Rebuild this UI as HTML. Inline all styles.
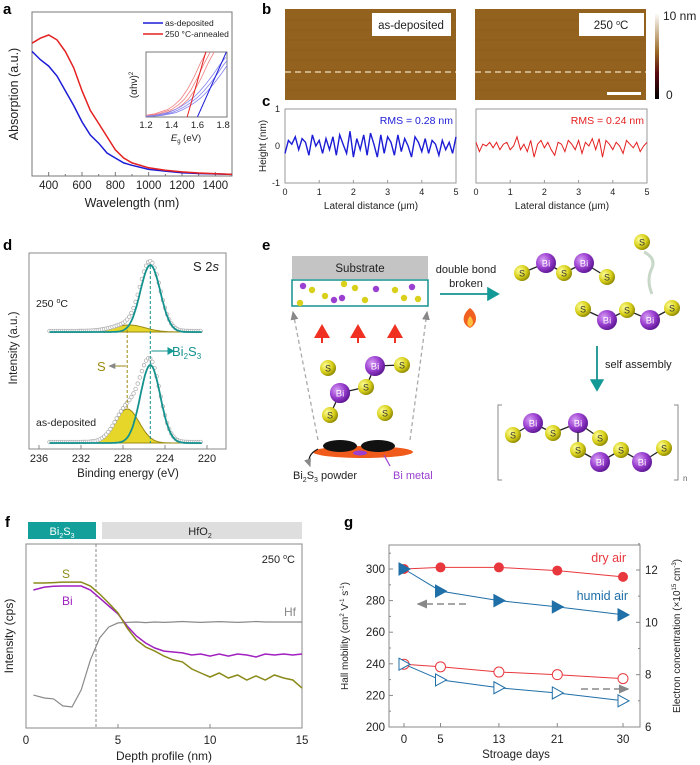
<!DOCTYPE html>
<html><head><meta charset="utf-8"><style>
html,body{margin:0;padding:0;background:#fff;}
svg{display:block;font-family:"Liberation Sans",Arial,sans-serif;}
</style></head><body>
<svg id="fig" width="700" height="765" viewBox="0 0 700 765">
<defs>
<clipPath id="insetClip"><rect x="146" y="52" width="81" height="65"/></clipPath>
<radialGradient id="gS" cx="0.35" cy="0.35" r="0.7"><stop offset="0" stop-color="#ffff9a"/><stop offset="0.6" stop-color="#d8d01a"/><stop offset="1" stop-color="#8a8400"/></radialGradient>
<radialGradient id="gBi" cx="0.35" cy="0.35" r="0.7"><stop offset="0" stop-color="#d9a0f5"/><stop offset="0.55" stop-color="#9a3fd0"/><stop offset="1" stop-color="#5a1590"/></radialGradient>
<linearGradient id="gCbar" x1="0" y1="1" x2="0" y2="0"><stop offset="0" stop-color="#000"/><stop offset="0.3" stop-color="#5a0a10"/><stop offset="0.55" stop-color="#9a6a25"/><stop offset="1" stop-color="#fff"/></linearGradient>
<marker id="arT" markerWidth="8" markerHeight="8" refX="6" refY="4" orient="auto"><path d="M0,0 L7,4 L0,8 Z" fill="#149a96"/></marker>
<marker id="arG" markerWidth="8" markerHeight="8" refX="6" refY="4" orient="auto"><path d="M0,1 L7,4 L0,7 Z" fill="#888"/></marker>
<marker id="arR" markerWidth="8" markerHeight="8" refX="5" refY="4" orient="auto"><path d="M0,0 L7,4 L0,8 Z" fill="#f03020"/></marker>
</defs>
<g font-weight="bold" font-size="15" fill="#000">
<text x="3" y="14">a</text>
<text x="262" y="14">b</text>
<text x="262" y="106">c</text>
<text x="3" y="250">d</text>
<text x="262" y="250">e</text>
<text x="5" y="527">f</text>
<text x="344" y="527">g</text>
</g>
<g id="pa"></g><g id="pb"></g><g id="pc"></g><g id="pd"></g><g id="pe"></g><g id="pf"></g><g id="pg"></g>
</svg>
<script>
// ---------- DATA ----------
const aWl = [300,350,400,450,500,550,600,650,700,750,800,850,900,1000,1100,1200,1300,1500];
const aBlue = [0.76,0.71,0.67,0.61,0.52,0.43,0.33,0.25,0.2,0.14,0.11,0.08,0.065,0.04,0.03,0.02,0.015,0.01];
const aRed = [0.81,0.84,0.86,0.83,0.76,0.66,0.52,0.4,0.32,0.24,0.16,0.11,0.08,0.05,0.035,0.025,0.018,0.01];
const aTicks = [400,600,800,1000,1200,1400];
const inE = [1.2,1.3,1.4,1.45,1.5,1.55,1.6,1.65,1.7,1.75,1.8,1.85];
const inRed = [0.02,0.06,0.14,0.22,0.33,0.5,0.72,0.98,1.2,1.4,1.6,1.8];
const inBlue = [0.01,0.03,0.08,0.13,0.19,0.27,0.36,0.48,0.62,0.78,0.95,1.1];
const inTicks = [1.2,1.4,1.6,1.8];
const cX = [0,0.1,0.2,0.3,0.4,0.5,0.6,0.7,0.8,0.9,1,1.1,1.2,1.3,1.4,1.5,1.6,1.7,1.8,1.9,2,2.1,2.2,2.3,2.4,2.5,2.6,2.7,2.8,2.9,3,3.1,3.2,3.3,3.4,3.5,3.6,3.7,3.8,3.9,4,4.1,4.2,4.3,4.4,4.5,4.6,4.7,4.8,4.9,5];
const cLeft = [-0.2,0.15,0.05,0.25,-0.1,0.2,0.1,-0.25,0.3,0,0.15,-0.2,0.2,-0.1,0.25,-0.25,0.3,0.05,-0.2,0.4,-0.3,0.2,-0.1,0.3,-0.25,0.35,0.05,-0.3,0.3,-0.2,0.25,0.1,-0.25,0.3,-0.15,0.2,0,-0.3,0.25,0.1,-0.15,0.2,-0.2,0.15,0.05,-0.25,0.15,-0.1,0.1,-0.2,0.25];
const cRight = [0.1,-0.15,0.05,0,0.1,-0.05,0.1,-0.1,0.05,0.1,-0.1,0.0,0.25,-0.1,0.05,-0.15,0.15,-0.3,0.05,0.15,-0.05,0.1,-0.1,-0.25,0.1,0.05,-0.15,0.15,0.05,-0.1,0.15,-0.2,0.1,0,0.2,-0.1,0.2,-0.3,0.15,0.05,-0.1,0.1,0,-0.2,0.15,0.05,-0.05,0.1,-0.15,0.0,0.1];
const cTicks = [0,1,2,3,4,5];
const dTicks = [236,232,228,224,220];
const dOffsets = [117,6];
const dBiCenter = [225.4,225.4];
const dBiAmp = [67,78];
const dBiSigma = [0.95,0.95];
const dSCenter = [227.4,227.6];
const dSAmp = [7,34];
const dSSigma = [1.5,1.15];
const fDepth = [0.4,1,1.5,2,2.5,3,3.5,4,4.5,5,5.5,6,6.5,7,7.5,8,8.5,9,9.5,10,10.5,11,11.5,12,12.5,13,13.5,14,14.5,15];
const fS = [78.8,78.8,79,79.3,79.3,79.3,77.2,72.8,67.9,62.5,54.3,47.8,44,41.8,39.1,37,35.9,32.1,29.9,27.7,29.9,27.2,28.8,26.1,28.3,26.1,28.8,27.2,26.1,21.7];
const fBi = [75,76.6,77,77.2,77.2,77.2,75,70.7,66.3,62,55.4,50,46.2,43.5,41.8,41.3,40.8,39.7,40.2,39.1,40.2,39.1,40.2,39.7,38.6,40.2,39.7,40.2,39.7,40.2];
const fHf = [17.9,16.3,15.8,12,11.4,20.7,37,48.9,54.9,57.1,57.4,57.6,57.3,57.6,57.4,57.6,57.9,57.6,57.4,57.6,57.8,57.6,57.4,57.6,57.9,57.6,57.6,57.6,57.6,57.6];
const fTicks = [0,5,10,15];
const gDays = [0,5,13,21,30];
const gMobDry = [300,301,301,299,295];
const gMobHumid = [300,286,280,276,271];
const gConcDry = [8.4,8.3,8.1,8.0,7.85];
const gConcHumid = [8.4,7.8,7.5,7.3,7.0];
const gLeftTicks = [200,220,240,260,280,300];
const gRightTicks = [6,8,10,12];

const NS='http://www.w3.org/2000/svg';
function mk(parent,tag,attrs,name){
  const el=document.createElementNS(NS,tag);
  for(const k in attrs) el.setAttribute(k,attrs[k]);
  
  
  parent.appendChild(el);return el;
}
function txt(parent,x,y,s,name,extra){
  const a=Object.assign({x:x,y:y,'font-size':11,fill:'#222'},extra||{});
  const t=mk(parent,'text',a,name);t.textContent=s;return t;
}
function lin(d0,d1,r0,r1){return v=>r0+(v-d0)*(r1-r0)/(d1-d0);}
function pathOf(xs,ys,sx,sy){return xs.map((x,i)=>(i?'L':'M')+sx(x).toFixed(1)+','+sy(ys[i]).toFixed(1)).join('');}

// ---------- PANEL A ----------
(function(){
const g=document.getElementById('pa');
const sx=lin(300,1500,32,232), sy=lin(0,1,176,12);
mk(g,'rect',{x:32,y:12,width:200,height:164,fill:'none',stroke:'#777','stroke-width':1},'plot-frame-a');
for(let v=300;v<=1500;v+=100){mk(g,'line',{x1:sx(v),x2:sx(v),y1:176,y2:v%200==0?172:174,stroke:'#777'},'x-tick-a');}
aTicks.forEach(v=>{txt(g,sx(v),189,String(v),'x-tick-label-a',{'text-anchor':'middle','font-size':11.5});});
txt(g,132,207,'Wavelength (nm)','x-axis-title-a',{'text-anchor':'middle','font-size':12.5});
txt(g,0,0,'Absorption (a.u.)','y-axis-title-a',{'text-anchor':'middle','font-size':12.5,transform:'translate(18,94) rotate(-90)'});
mk(g,'path',{d:pathOf(aWl,aBlue,sx,sy),fill:'none',stroke:'#1c1cd6','stroke-width':1.5},'as-deposited-line');
mk(g,'path',{d:pathOf(aWl,aRed,sx,sy),fill:'none',stroke:'#e42020','stroke-width':1.5},'annealed-line');
mk(g,'line',{x1:143,x2:163,y1:23,y2:23,stroke:'#1c1cd6','stroke-width':1.5},'legend-swatch-as-deposited');
txt(g,165,26,'as-deposited','legend-entry-as-deposited',{'font-size':8.5});
mk(g,'line',{x1:143,x2:163,y1:34,y2:34,stroke:'#e42020','stroke-width':1.5},'legend-swatch-annealed');
txt(g,165,37,'250 °C-annealed','legend-entry-annealed',{'font-size':8.5});
const ix=lin(1.2,1.83,146,227), iy=lin(0,1.2,117,52);
mk(g,'rect',{x:146,y:52,width:81,height:65,fill:'#fff',stroke:'#777'},'inset-frame');
const cl=mk(g,'g',{'clip-path':'url(#insetClip)'},'inset-curves');
[0,0.03,-0.03].forEach(o=>{
  mk(cl,'path',{d:pathOf(inE.map(e=>e+o),inRed,ix,iy),fill:'none',stroke:'#f08080','stroke-width':0.8},'inset-red-curve');
  mk(cl,'path',{d:pathOf(inE.map(e=>e+o),inBlue,ix,iy),fill:'none',stroke:'#8080f0','stroke-width':0.8},'inset-blue-curve');
});
mk(cl,'line',{x1:ix(1.52),y1:117,x2:ix(1.665),y2:52,stroke:'#e42020','stroke-width':1},'inset-red-fit');
mk(cl,'line',{x1:ix(1.6),y1:117,x2:ix(1.825),y2:52,stroke:'#1c1cd6','stroke-width':1},'inset-blue-fit');
inTicks.forEach(v=>{txt(g,ix(v),128,v.toFixed(1),'inset-tick-label',{'text-anchor':'middle','font-size':9.5});});
const et=txt(g,186,141,'','inset-x-title',{'text-anchor':'middle','font-size':9.5});
et.innerHTML='<tspan font-style="italic">E</tspan><tspan font-size="6" dy="2">g</tspan><tspan dy="-2"> (eV)</tspan>';
const yt=txt(g,0,0,'','inset-y-title',{'text-anchor':'middle','font-size':10,transform:'translate(137,85) rotate(-90)'});
yt.innerHTML='(αhν)<tspan font-size="6" dy="-4">2</tspan>';
})();

// ---------- PANEL B ----------
(function(){
const g=document.getElementById('pb');
[[285,'as-deposited'],[475,'250 °C']].forEach((p,i)=>{
  mk(g,'rect',{x:p[0],y:9,width:171,height:91,fill:'#93621f'},'afm-image-'+i);
  for(let k=0;k<8;k++) mk(g,'line',{x1:p[0],x2:p[0]+171,y1:20+k*10,y2:20+k*10,stroke:'#875818','stroke-width':1,opacity:0.5},'afm-texture');
  mk(g,'line',{x1:p[0],x2:p[0]+171,y1:72,y2:72,stroke:'#f0e0c0','stroke-width':1.2,'stroke-dasharray':'6,4'},'afm-line-cut');
});
mk(g,'rect',{x:372,y:13,width:79,height:23,fill:'#fff'},'label-box-as-deposited');
txt(g,411,29,'as-deposited','afm-label-as-deposited',{'text-anchor':'middle','font-size':11.5});
mk(g,'rect',{x:579,y:13,width:65,height:23,fill:'#fff'},'label-box-250');
const t=txt(g,611,29,'','afm-label-250',{'text-anchor':'middle','font-size':11.5});
t.innerHTML='250 <tspan font-size="7" dy="-4">o</tspan><tspan dy="4">C</tspan>';
mk(g,'rect',{x:607,y:92,width:34,height:3,fill:'#fff'},'scale-bar');
mk(g,'rect',{x:655,y:13,width:4,height:86,fill:'url(#gCbar)'},'color-bar');
txt(g,663,20,'10 nm','colorbar-max-label',{'font-size':12});
txt(g,666,99,'0','colorbar-min-label',{'font-size':12});
})();

// ---------- PANEL C ----------
(function(){
const g=document.getElementById('pc');
const sy=lin(-1,1,183,109);
[[285,cLeft,'#1c1cd6','RMS = 0.28 nm','left'],[476,cRight,'#e42020','RMS = 0.24 nm','right']].forEach(p=>{
  const sx=lin(0,5,p[0],p[0]+171);
  mk(g,'rect',{x:p[0],y:109,width:171,height:74,fill:'none',stroke:'#999'},'height-plot-frame-'+p[4]);
  cTicks.forEach(v=>{mk(g,'line',{x1:sx(v),x2:sx(v),y1:183,y2:180,stroke:'#999'},'x-tick-c');txt(g,sx(v),195,String(v),'x-tick-label-c',{'text-anchor':'middle','font-size':9});});
  txt(g,p[0]+86,209,'Lateral distance (μm)','x-axis-title-c',{'text-anchor':'middle','font-size':10});
  mk(g,'path',{d:pathOf(cX,p[1],sx,sy),fill:'none',stroke:p[2],'stroke-width':p[4]=='left'?1.4:1},'height-profile-'+p[4]);
  txt(g,p[0]+168,124,p[3],'rms-label-'+p[4],{'text-anchor':'end','font-size':10.5,fill:p[2]});
});
[1,0,-1].forEach(v=>{txt(g,280,sy(v)+3,String(v),'y-tick-label-c',{'text-anchor':'end','font-size':9});});
txt(g,0,0,'Height (nm)','y-axis-title-c',{'text-anchor':'middle','font-size':10,transform:'translate(266,146) rotate(-90)'});
})();

// ---------- PANEL D ----------
(function(){
const g=document.getElementById('pd');
const sx=lin(236,220,39,207), sy=v=>449-v;
mk(g,'rect',{x:29,y:253,width:197,height:196,fill:'none',stroke:'#888'},'plot-frame-d');
dTicks.forEach(v=>{mk(g,'line',{x1:sx(v),x2:sx(v),y1:449,y2:445,stroke:'#888'},'x-tick-d');txt(g,sx(v),462,String(v),'x-tick-label-d',{'text-anchor':'middle','font-size':11});});
txt(g,128,477,'Binding energy (eV)','x-axis-title-d',{'text-anchor':'middle','font-size':11.5});
txt(g,0,0,'Intensity (a.u.)','y-axis-title-d',{'text-anchor':'middle','font-size':11.5,transform:'translate(17,348) rotate(-90)'});
const gs=(e,c,a,s)=>a*Math.exp(-0.5*((e-c)/s)**2);
const E=[];for(let e=235;e>=220.5;e-=0.1)E.push(+e.toFixed(2));
[0,1].forEach(i=>{
  const off=dOffsets[i];
  const bi=E.map(e=>off+gs(e,dBiCenter[i],dBiAmp[i],dBiSigma[i]));
  const s=E.map(e=>off+gs(e,dSCenter[i],dSAmp[i],dSSigma[i]));
  const sum=E.map((e,k)=>bi[k]+s[k]-off);
  mk(g,'path',{d:pathOf(E,s,sx,sy)+'L'+sx(220.5)+','+sy(off)+'L'+sx(235)+','+sy(off)+'Z',fill:'#e6d62a',stroke:'#9a8a10','stroke-width':1},'s-component-'+i);
  const pts=mk(g,'g',{},'data-points-'+i);
  E.forEach((e,k)=>{if(k%2==0)mk(pts,'circle',{cx:sx(e),cy:sy(sum[k])-1,r:1.8,fill:'#fff',stroke:'#aaa','stroke-width':0.7},'data-point');});
  mk(g,'path',{d:pathOf(E,bi,sx,sy),fill:'none',stroke:'#14928e','stroke-width':1.8},'bi2s3-component-'+i);
});
mk(g,'line',{x1:sx(225.4),x2:sx(225.4),y1:266,y2:443,stroke:'#14928e','stroke-dasharray':'3,2'},'bi2s3-guide');
mk(g,'line',{x1:sx(227.6),x2:sx(227.6),y1:330,y2:410,stroke:'#9a8a10','stroke-dasharray':'3,2'},'s-guide');
mk(g,'line',{x1:sx(225.3),x2:sx(223.2),y1:351,y2:351,stroke:'#14928e','marker-end':'url(#arT)'},'bi2s3-arrow');
const bt=txt(g,172,356,'','bi2s3-label',{'font-size':13,fill:'#14928e'});
bt.innerHTML='Bi<tspan font-size="8" dy="3">2</tspan><tspan dy="-3">S</tspan><tspan font-size="8" dy="3">3</tspan>';
mk(g,'line',{x1:sx(227.7),x2:sx(229.3),y1:366,y2:366,stroke:'#9a8a10','marker-end':'url(#arG)'},'s-arrow');
txt(g,97,371,'S','s-label',{'font-size':13,fill:'#9a8a10'});
txt(g,219,271,'','s2s-title',{'text-anchor':'end','font-size':13}).innerHTML='S 2<tspan font-style="italic">s</tspan>';
txt(g,36,307,'','label-250',{'font-size':10.5}).innerHTML='250 <tspan font-size="7" dy="-4">o</tspan><tspan dy="4">C</tspan>';
txt(g,36,426,'as-deposited','label-as-deposited',{'font-size':10.5});
})();

// ---------- PANEL E ----------
(function(){
const g=document.getElementById('pe');
function atom(x,y,t){
  const r=t=='S'?8:10;
  mk(g,'circle',{cx:x,cy:y,r:r,fill:t=='S'?'url(#gS)':'url(#gBi)'},'atom-'+t);
  txt(g,x,y+3.5,t,'atom-label-'+t,{'text-anchor':'middle','font-size':t=='S'?9:9.5,fill:t=='S'?'#333':'#fff'});
}
function chain(list){
  for(let i=1;i<list.length;i++)mk(g,'line',{x1:list[i-1][0],y1:list[i-1][1],x2:list[i][0],y2:list[i][1],stroke:'#222','stroke-width':1.3},'bond');
  list.forEach(a=>atom(a[0],a[1],a[2]));
}
mk(g,'rect',{x:292,y:256,width:136,height:23,fill:'#c4c4c4'},'substrate');
txt(g,360,272,'Substrate','substrate-label',{'text-anchor':'middle','font-size':11.5});
mk(g,'rect',{x:292,y:280,width:136,height:26,fill:'#fff',stroke:'#14928e','stroke-width':1.5},'film-layer');
[[300,303],[303,286],[325,296],[344,284],[342,298],[355,288],[365,300],[376,289],[395,290],[404,298],[412,287],[418,299],[312,290],[334,300]].forEach((p,i)=>mk(g,'circle',{cx:p[0],cy:p[1],r:3.2,fill:i%3==1?'#9a3fd0':'#d8d01a'},'film-atom'));
mk(g,'line',{x1:318,y1:440,x2:293,y2:312,stroke:'#aaa','stroke-dasharray':'4,3','stroke-width':1.3,'marker-end':'url(#arG)'},'vapor-cone-left');
mk(g,'line',{x1:410,y1:440,x2:427,y2:312,stroke:'#aaa','stroke-dasharray':'4,3','stroke-width':1.3,'marker-end':'url(#arG)'},'vapor-cone-right');
[322,358,395].forEach(x=>mk(g,'line',{x1:x,y1:343,x2:x,y2:328,stroke:'#f03020','stroke-width':2,'marker-end':'url(#arR)'},'vapor-arrow'));
chain([[340,393,'Bi'],[366,387,'S'],[375,366,'Bi'],[402,365,'S']]);
chain([[340,393,'Bi'],[330,415,'S']]);
atom(328,368,'S');atom(385,413,'S');
mk(g,'ellipse',{cx:363,cy:452,rx:50,ry:6,fill:'#f05a1a'},'crucible');
mk(g,'ellipse',{cx:340,cy:446,rx:17,ry:6,fill:'#111'},'powder-pile-1');
mk(g,'ellipse',{cx:378,cy:446,rx:17,ry:6,fill:'#111'},'powder-pile-2');
mk(g,'ellipse',{cx:360,cy:453,rx:7,ry:2.5,fill:'#9a3fd0'},'bi-metal-drop');
mk(g,'path',{d:'M318,449 Q306,455 310,466',fill:'none',stroke:'#111','stroke-width':1.2,'marker-end':'url(#arG)'},'powder-pointer');
mk(g,'path',{d:'M384,455 L390,466',fill:'none',stroke:'#9a3fd0','stroke-width':1.2},'bi-pointer');
txt(g,293,479,'','powder-label',{'font-size':11}).innerHTML='Bi<tspan font-size="7" dy="3">2</tspan><tspan dy="-3">S</tspan><tspan font-size="7" dy="3">3</tspan><tspan dy="-3"> powder</tspan>';
txt(g,393,479,'Bi metal','bi-metal-label',{'font-size':11,fill:'#9a3fd0'});
txt(g,466,273,'double bond','arrow-label-1',{'text-anchor':'middle','font-size':11});
txt(g,466,287,'broken','arrow-label-2',{'text-anchor':'middle','font-size':11});
mk(g,'line',{x1:440,y1:294,x2:498,y2:294,stroke:'#14928e','stroke-width':1.8,'marker-end':'url(#arT)'},'reaction-arrow');
mk(g,'path',{d:'M470,308 C478,314 478,324 470,328 C461,324 462,314 470,308 Z',fill:'#f06020'},'flame-icon');
mk(g,'path',{d:'M470,316 C474,320 474,325 470,327 C466,325 467,320 470,316 Z',fill:'#ffc040'},'flame-core');
chain([[522,273,'S'],[546,263,'Bi'],[564,273,'S'],[584,263,'Bi'],[607,277,'S']]);
mk(g,'path',{d:'M652,294 Q646,280 652,268 Q656,258 644,252',fill:'none',stroke:'#c8d8c8','stroke-width':3},'released-s-trail');
atom(642,242,'S');
chain([[583,309,'S'],[607,320,'Bi'],[627,310,'S'],[650,320,'Bi'],[672,308,'S']]);
mk(g,'line',{x1:597,y1:346,x2:597,y2:390,stroke:'#14928e','stroke-width':1.8,'marker-end':'url(#arT)'},'assembly-arrow');
txt(g,605,368,'self assembly','self-assembly-label',{'font-size':11});
mk(g,'path',{d:'M502,405 L498,405 L498,480 L502,480',fill:'none',stroke:'#888'},'bracket-left');
mk(g,'path',{d:'M674,405 L678,405 L678,480 L674,480',fill:'none',stroke:'#888'},'bracket-right');
txt(g,683,481,'n','repeat-n',{'font-size':8,fill:'#666'});
chain([[513,435,'S'],[533,423,'Bi'],[553,433,'S'],[578,423,'Bi'],[600,438,'S']]);
chain([[578,450,'S'],[600,462,'Bi'],[621,450,'S'],[642,462,'Bi'],[664,448,'S']]);
mk(g,'line',{x1:578,y1:432,x2:578,y2:442,stroke:'#222','stroke-width':1.3},'bond');
})();

// ---------- PANEL F ----------
(function(){
const g=document.getElementById('pf');
const sx=lin(0,15,26,302), sy=lin(0,100,728,544);
mk(g,'rect',{x:28,y:522,width:68,height:17,fill:'#14a09a'},'layer-bar-bi2s3');
txt(g,62,535,'','layer-label-bi2s3',{'text-anchor':'middle','font-size':11,fill:'#fff'}).innerHTML='Bi<tspan font-size="7" dy="3">2</tspan><tspan dy="-3">S</tspan><tspan font-size="7" dy="3">3</tspan>';
mk(g,'rect',{x:102,y:522,width:200,height:17,fill:'#dedede'},'layer-bar-hfo2');
txt(g,200,535,'','layer-label-hfo2',{'text-anchor':'middle','font-size':11}).innerHTML='HfO<tspan font-size="7" dy="3">2</tspan>';
mk(g,'rect',{x:26,y:544,width:276,height:184,fill:'none',stroke:'#888'},'plot-frame-f');
fTicks.forEach(v=>{mk(g,'line',{x1:sx(v),x2:sx(v),y1:728,y2:724,stroke:'#888'},'x-tick-f');txt(g,sx(v),744,String(v),'x-tick-label-f',{'text-anchor':'middle','font-size':11.5});});
txt(g,164,760,'Depth profile (nm)','x-axis-title-f',{'text-anchor':'middle','font-size':12});
txt(g,0,0,'Intensity (cps)','y-axis-title-f',{'text-anchor':'middle','font-size':12,transform:'translate(13,636) rotate(-90)'});
mk(g,'line',{x1:96,x2:96,y1:544,y2:728,stroke:'#888','stroke-dasharray':'3,2'},'interface-line');
mk(g,'path',{d:pathOf(fDepth,fHf,sx,sy),fill:'none',stroke:'#8a8a8a','stroke-width':1.2},'hf-line');
mk(g,'path',{d:pathOf(fDepth,fBi,sx,sy),fill:'none',stroke:'#a020c0','stroke-width':1.5},'bi-line');
mk(g,'path',{d:pathOf(fDepth,fS,sx,sy),fill:'none',stroke:'#8a8a1a','stroke-width':1.5},'s-line');
txt(g,62,578,'S','series-label-s',{'font-size':12,fill:'#8a8a1a'});
txt(g,62,605,'Bi','series-label-bi',{'font-size':12,fill:'#a020c0'});
txt(g,284,616,'Hf','series-label-hf',{'font-size':12,fill:'#8a8a8a'});
txt(g,295,563,'','temp-label-f',{'text-anchor':'end','font-size':11}).innerHTML='250 <tspan font-size="7" dy="-4">o</tspan><tspan dy="4">C</tspan>';
})();

// ---------- PANEL G ----------
(function(){
const g=document.getElementById('pg');
const sx=lin(0,30,404,623), syL=lin(200,300,727,569), syR=lin(6,12,727,570);
mk(g,'rect',{x:389,y:545,width:251,height:182,fill:'none',stroke:'#888'},'plot-frame-g');
for(let v=200;v<=310;v+=10)mk(g,'line',{x1:389,x2:v%20==0?393:391,y1:syL(v),y2:syL(v),stroke:'#888'},'y-tick-left-g');
gLeftTicks.forEach(v=>txt(g,385,syL(v)+4,String(v),'y-tick-label-left',{'text-anchor':'end','font-size':11.5}));
for(let v=6;v<=13;v+=1)mk(g,'line',{x1:640,x2:v%2==0?636:638,y1:syR(v),y2:syR(v),stroke:'#888'},'y-tick-right-g');
gRightTicks.forEach(v=>txt(g,645,syR(v)+4,String(v),'y-tick-label-right',{'font-size':11.5}));
gDays.forEach(v=>{mk(g,'line',{x1:sx(v),x2:sx(v),y1:727,y2:723,stroke:'#888'},'x-tick-g');txt(g,sx(v),743,String(v),'x-tick-label-g',{'text-anchor':'middle','font-size':11.5});});
txt(g,516,758,'Stroage days','x-axis-title-g',{'text-anchor':'middle','font-size':11.5});
txt(g,0,0,'','y-axis-title-left-g',{'text-anchor':'middle','font-size':10,transform:'translate(348,636) rotate(-90)'}).innerHTML='Hall mobility (cm<tspan font-size="6" dy="-4">2</tspan><tspan dy="4"> V</tspan><tspan font-size="6" dy="-4">-1</tspan><tspan dy="4"> s</tspan><tspan font-size="6" dy="-4">-1</tspan><tspan dy="4">)</tspan>';
txt(g,0,0,'','y-axis-title-right-g',{'text-anchor':'middle','font-size':10,transform:'translate(680,636) rotate(-90)'}).innerHTML='Electron concentration (×10<tspan font-size="6" dy="-4">15</tspan><tspan dy="4"> cm</tspan><tspan font-size="6" dy="-4">-3</tspan><tspan dy="4">)</tspan>';
const red='#e8383d', blue='#1f6fa8';
function tri(x,y,fill,name){
  mk(g,'path',{d:`M${x-5},${y-6} L${x+6},${y} L${x-5},${y+6} Z`,fill:fill,stroke:blue,'stroke-width':1},name);
}
mk(g,'path',{d:pathOf(gDays,gMobDry,sx,syL),fill:'none',stroke:red,'stroke-width':1},'mobility-dry-line');
mk(g,'path',{d:pathOf(gDays,gMobHumid,sx,syL),fill:'none',stroke:blue,'stroke-width':1},'mobility-humid-line');
mk(g,'path',{d:pathOf(gDays,gConcDry,sx,syR),fill:'none',stroke:red,'stroke-width':1},'conc-dry-line');
mk(g,'path',{d:pathOf(gDays,gConcHumid,sx,syR),fill:'none',stroke:blue,'stroke-width':1},'conc-humid-line');
gDays.forEach((d,i)=>{
  mk(g,'circle',{cx:sx(d),cy:syL(gMobDry[i]),r:5,fill:red},'mobility-dry-point');
  tri(sx(d),syL(gMobHumid[i]),blue,'mobility-humid-point');
  mk(g,'circle',{cx:sx(d),cy:syR(gConcDry[i]),r:5,fill:'#fff',stroke:red,'stroke-width':1},'conc-dry-point');
  tri(sx(d),syR(gConcHumid[i]),'#fff','conc-humid-point');
});
txt(g,626,562,'dry air','series-label-dry',{'text-anchor':'end','font-size':12.5,fill:red});
txt(g,628,600,'humid air','series-label-humid',{'text-anchor':'end','font-size':12.5,fill:blue});
mk(g,'line',{x1:466,x2:418,y1:604,y2:604,stroke:'#888','stroke-width':1.5,'stroke-dasharray':'7,4','marker-end':'url(#arG)'},'left-axis-arrow');
mk(g,'line',{x1:581,x2:628,y1:689,y2:689,stroke:'#888','stroke-width':1.5,'stroke-dasharray':'7,4','marker-end':'url(#arG)'},'right-axis-arrow');
})();
</script>
</body></html>
